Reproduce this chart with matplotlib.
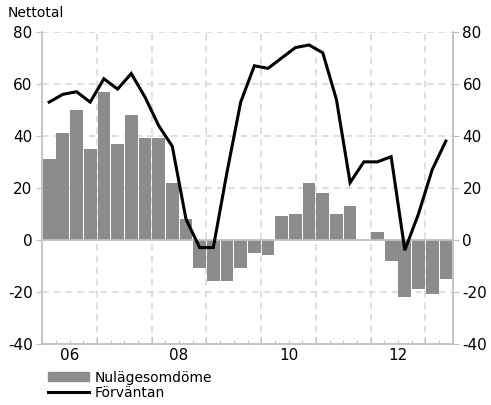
import numpy as np
import matplotlib
matplotlib.use("Agg")
import matplotlib.pyplot as plt
from matplotlib.patches import Patch
from matplotlib.lines import Line2D

plt.rcParams["axes.unicode_minus"] = False

# Quarterly data, 2006 Q1 .. 2013 Q2
quarters = [f"{y}Q{q}" for y in range(2006, 2014) for q in range(1, 5)][:30]
nulage = [31, 41, 50, 35, 57, 37, 48, 39, 39, 22,
          8, -11, -16, -16, -11, -5, -6, 9, 10, 22,
          18, 10, 13, 0, 3, -8, -22, -19, -21, -15]
forvantan = [53, 56, 57, 53, 62, 58, 64, 55, 44, 36,
             8, -3, -3, 26, 53, 67, 66, 70, 74, 75,
             72, 54, 22, 30, 30, 32, -4, 10, 27, 38]
year_labels = ["06", "08", "10", "12"]
yticks = [-40, -20, 0, 20, 40, 60, 80]

bar_color = "#8c8c8c"
grid_color = "#d9d9d9"
axis_color = "#c0c0c0"

fig = plt.figure(figsize=(4.91, 4.05), dpi=100)
ax = fig.add_axes([0.0862, 0.1514, 0.8358, 0.7696])

x = np.arange(len(quarters))
ax.bar(x, nulage, width=0.93, color=bar_color, zorder=2)
ax.plot(x, forvantan, color="black", lw=2.2, zorder=4, solid_joinstyle="miter")

ax.set_xlim(-0.5, len(quarters) - 0.5)
ax.set_ylim(-40, 80)

# grid
for yv in yticks:
    if yv == 0:
        ax.axhline(0, color=axis_color, lw=1.3, zorder=3)
    elif yv != -40:
        ax.axhline(yv, color=grid_color, lw=1.2, ls=(0, (4, 3)), zorder=1)
year_bounds = np.arange(3.5, len(quarters) - 1, 4)
for xv in year_bounds:
    ax.axvline(xv, color=grid_color, lw=1.2, ls=(0, (4, 3)), zorder=1)

# spines
ax.spines["top"].set_visible(False)
for s in ["left", "right", "bottom"]:
    ax.spines[s].set_color(axis_color)
    ax.spines[s].set_linewidth(1.3)

ax.set_yticks(yticks)
ax.tick_params(axis="y", which="both", left=True, right=True, labelleft=True,
               labelright=True, length=4, color=axis_color, labelsize=11, pad=3)

# x ticks: year boundaries major (inside), quarters minor
ax.set_xticks(year_bounds)
ax.set_xticklabels([])
ax.set_xticks(x[:-1] + 0.5, minor=True)
ax.tick_params(axis="x", which="major", direction="in", length=5, color=axis_color)
ax.tick_params(axis="x", which="minor", direction="in", length=3, color=axis_color)
for i, lab in enumerate(year_labels):
    ax.text(1.5 + 8 * i, -41.5, lab, ha="center", va="top", fontsize=11)

fig.text(0.016, 0.967, "Nettotal", fontsize=10, ha="left", va="center")

handles = [Patch(color=bar_color), Line2D([], [], color="black", lw=2.2)]
fig.legend(handles, ["Nulägesomdöme", "Förväntan"], loc="upper left",
           bbox_to_anchor=(0.097, 0.085), frameon=False, fontsize=10,
           handlelength=3.0, handleheight=0.6, handletextpad=0.4,
           labelspacing=0.1, borderpad=0, borderaxespad=0)

fig.savefig("out.png", dpi=100)
